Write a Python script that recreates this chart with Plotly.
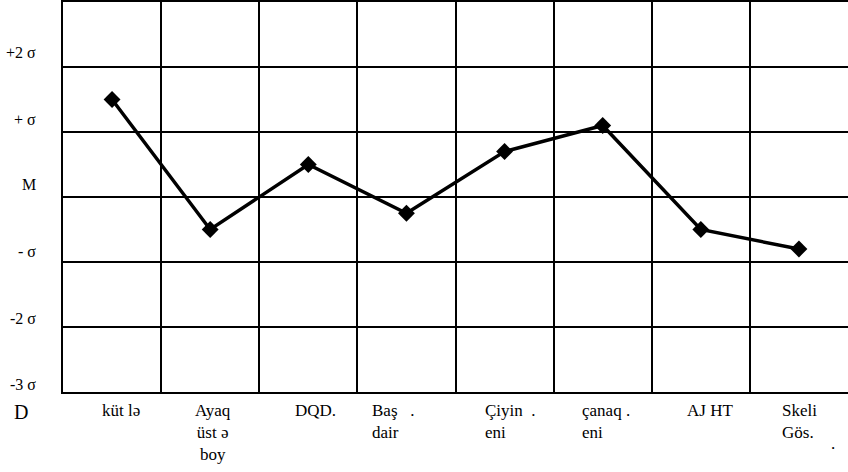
import plotly.graph_objects as go

# ---- data ----
categories = ["küt lə", "Ayaq<br>üst ə<br>boy", "DQD.", "Baş   .<br>dair", "Çiyin  .<br>eni",
              "çanaq .<br>eni", "AJ HT", "Skeli<br>Gös."]
values = [1.5, -0.5, 0.5, -0.25, 0.7, 1.1, -0.5, -0.8]
sigma_levels = [2, 1, 0, -1, -2, -3]
sigma_labels = ["+2 σ", "+ σ", "M", "- σ", "-2 σ", "-3 σ"]

# ---- styling ----
FONT = "Liberation Serif, Times New Roman, DejaVu Serif, serif"
label_dx = [0.38, 1.53, 2.34, 3.13, 4.28, 5.27, 6.34, 7.31]
label_anchor = ["left", "center", "left", "left", "left", "left", "left", "left"]
label_align = ["left", "center", "left", "left", "left", "left", "left", "left"]
sigma_yshift = [15, 13, 13, 11, 9, 8]

xpos = [i + 0.5 for i in range(len(categories))]

fig = go.Figure()
fig.add_trace(go.Scatter(
    x=xpos, y=values, mode="lines+markers",
    line=dict(color="black", width=3.5),
    marker=dict(symbol="diamond", size=13, color="black"),
    showlegend=False, hoverinfo="skip",
))

annotations = []
for txt, dx, anc, al in zip(categories, label_dx, label_anchor, label_align):
    annotations.append(dict(
        x=dx, y=0, xref="x", yref="paper", text=txt, showarrow=False,
        xanchor=anc, yanchor="top", align=al, yshift=-7,
        font=dict(family=FONT, size=17, color="black"),
    ))
for lvl, lab, ys in zip(sigma_levels, sigma_labels, sigma_yshift):
    annotations.append(dict(
        x=0, y=lvl, xref="paper", yref="y", text=lab, showarrow=False,
        xanchor="right", yanchor="middle", xshift=-25, yshift=ys,
        font=dict(family=FONT, size=16, color="black"),
    ))
annotations.append(dict(
    x=0, y=0, xref="paper", yref="paper", text="D", showarrow=False,
    xanchor="right", yanchor="top", xshift=-33, yshift=-7,
    font=dict(family=FONT, size=20, color="black"),
))
annotations.append(dict(
    x=7.85, y=0, xref="x", yref="paper", text=".", showarrow=False,
    xanchor="center", yanchor="top", yshift=-40,
    font=dict(family=FONT, size=17, color="black"),
))

fig.update_layout(
    width=848, height=472,
    margin=dict(l=63, r=0, t=2, b=80),
    paper_bgcolor="white", plot_bgcolor="white",
    font=dict(family=FONT, color="black"),
    xaxis=dict(range=[0, 8], tickvals=[1, 2, 3, 4, 5, 6, 7], showticklabels=False,
               showgrid=True, gridcolor="black", gridwidth=2,
               showline=True, linecolor="black", linewidth=2, mirror=True,
               zeroline=False, ticks="", fixedrange=True),
    yaxis=dict(range=[-3, 3], tickvals=[-2, -1, 0, 1, 2], showticklabels=False,
               showgrid=True, gridcolor="black", gridwidth=2,
               showline=True, linecolor="black", linewidth=2, mirror=False,
               zeroline=False, ticks="", fixedrange=True),
    annotations=annotations,
)

fig.write_html("out.html", config={"displayModeBar": False},
               post_script="document.body.style.margin='0';document.body.style.overflow='hidden';")
